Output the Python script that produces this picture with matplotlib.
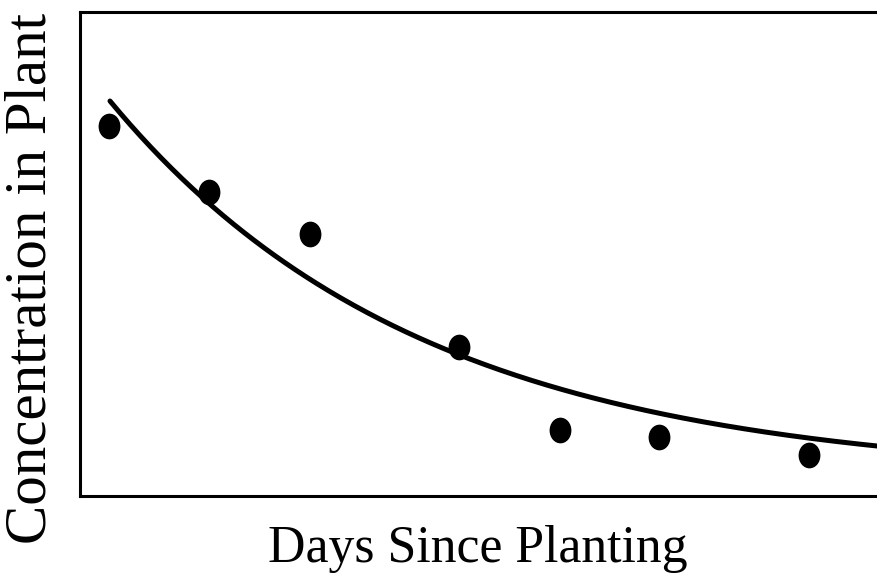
import numpy as np
import matplotlib
matplotlib.use("Agg")
import matplotlib.pyplot as plt
from matplotlib.path import Path

# Data (arbitrary units)
days = [1.0, 2.0, 3.01, 4.5, 5.51, 6.5, 8.0]
concentration = [7.64, 6.27, 5.41, 3.08, 1.36, 1.22, 0.85]

# Fitted decay trend: c(d) = plateau + amplitude * exp(-rate * d)
trend_plateau = 0.36
trend_amplitude = 10.76
trend_rate = 0.3195
trend_start = 1.01

x_label = "Days Since Planting"
y_label = "Concentration in Plant"

W, H = 878, 577
fig = plt.figure(figsize=(W / 100, H / 100), dpi=100)
left, right, top, bottom = 80, 878, 11.5, 496
ax = fig.add_axes([left / W, 1 - bottom / H, (right - left) / W, (bottom - top) / H])
ax.set_xlim(0.71, 8.69)
ax.set_ylim(0, 10)

xs = np.linspace(trend_start, 8.69, 300)
ax.plot(xs, trend_plateau + trend_amplitude * np.exp(-trend_rate * xs),
        color="black", lw=3.6, solid_capstyle="round", zorder=2)

circ = Path.unit_circle()
ell = Path(circ.vertices * np.array([0.84, 1.0]), circ.codes)
ax.plot(days, concentration, linestyle="none", marker=ell, markersize=17.5,
        color="black", zorder=3)

ax.set_xticks([])
ax.set_yticks([])
for s in ["left", "top", "bottom"]:
    ax.spines[s].set_linewidth(2.2)
ax.spines["right"].set_visible(False)

font = dict(family=["Liberation Serif", "DejaVu Serif"], color="black")
fig.text(478 / W, 1 - 549 / H, x_label, ha="center", va="center", fontsize=37.3, **font)
fig.text(32 / W, 1 - 278 / H, y_label, ha="center", va="center", rotation=90,
         fontsize=42.5, **font)

fig.savefig("out.png", dpi=100, facecolor="white")
